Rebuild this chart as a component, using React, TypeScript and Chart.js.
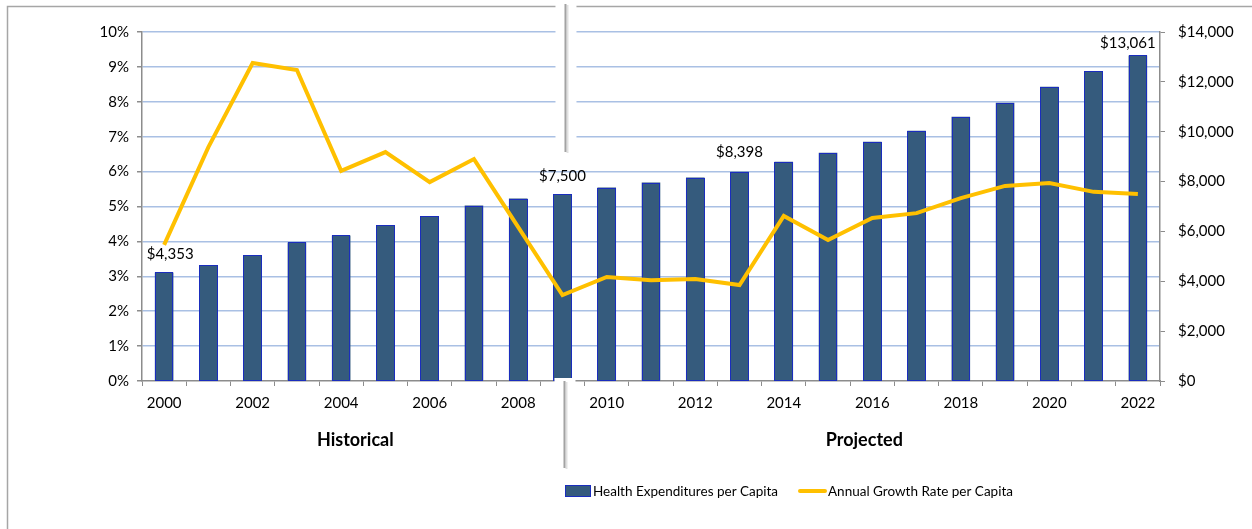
import React, { useEffect, useRef } from "react";
import { Chart, registerables } from "chart.js";

Chart.register(...registerables);

const years = [
  "2000", "2001", "2002", "2003", "2004", "2005", "2006", "2007", "2008", "2009", "2010", "2011",
  "2012", "2013", "2014", "2015", "2016", "2017", "2018", "2019", "2020", "2021", "2022",
];
const expenditures = [
  4353, 4640, 5040, 5560, 5840, 6260, 6600, 7040, 7320, 7500, 7760, 7960,
  8160, 8398, 8800, 9160, 9600, 10040, 10600, 11160, 11800, 12440, 13061,
];
const growthRate = [
  3.9, 6.7, 9.11, 8.91, 6.02, 6.56, 5.7, 6.36, 4.41, 2.46, 2.98, 2.89,
  2.92, 2.75, 4.73, 4.04, 4.67, 4.81, 5.24, 5.59, 5.67, 5.42, 5.36,
];
const labelledYears = ["2000", "2009", "2013", "2022"];
const seriesNames = ["Health Expenditures per Capita", "Annual Growth Rate per Capita"];
const periodNames = ["Historical", "Projected"];

const FONT = "Lato, 'Open Sans', sans-serif";
const BAR_COLOR = "#355b7d";
const LINE_COLOR = "#ffc000";
const AXIS_COLOR = "#8c8c8c";
const GRID_COLOR = "#a9c0e4";

// label offsets (dx, dy from bar top) for the value labels
const labelOffsets: Record<string, [number, number]> = {
  "2000": [6, -18],
  "2009": [0, -18],
  "2013": [0, -19],
  "2022": [-10, -12],
};

const fmtMoney = (v: number) => "$" + Math.round(v).toLocaleString("en-US");

const overlayPlugin = {
  id: "overlay",
  afterDatasetDraw(chart: any, args: any) {
    if (args.index !== 0) return;
    const ctx = chart.ctx;
    const meta = chart.getDatasetMeta(0);
    ctx.save();
    ctx.strokeStyle = "#0000ff";
    ctx.lineWidth = 1;
    ctx.setLineDash([1, 1]);
    meta.data.forEach((bar: any) => {
      const l = Math.round(bar.x - bar.width / 2);
      const r = Math.round(bar.x + bar.width / 2);
      const t = Math.round(bar.y);
      const b = Math.round(bar.base);
      ctx.fillStyle = BAR_COLOR;
      ctx.fillRect(l, t, r - l, b - t);
      ctx.strokeRect(l + 0.5, t + 0.5, r - l - 1, b - t - 1);
    });
    ctx.restore();
  },
  afterDraw(chart: any) {
    const ctx = chart.ctx;
    const xs = chart.scales.x;
    const y1 = chart.scales.y1;
    const area = chart.chartArea;
    ctx.save();

    // outer border
    ctx.strokeStyle = "#a6a6a6";
    ctx.lineWidth = 1.5;
    ctx.beginPath();
    ctx.moveTo(1252, 6.5);
    ctx.lineTo(7.5, 6.5);
    ctx.lineTo(7.5, 529);
    ctx.stroke();

    // value labels
    ctx.fillStyle = "#000";
    ctx.font = `15px ${FONT}`;
    ctx.textAlign = "center";
    ctx.textBaseline = "middle";
    labelledYears.forEach((yr) => {
      const i = years.indexOf(yr);
      const [dx, dy] = labelOffsets[yr];
      const x = xs.getPixelForValue(i) + dx;
      const y = y1.getPixelForValue(expenditures[i]) + dy;
      ctx.fillText(fmtMoney(expenditures[i]), x, y);
    });

    // period labels
    ctx.font = `bold 18px ${FONT}`;
    const split = (xs.getPixelForValue(9) + xs.getPixelForValue(10)) / 2;
    ctx.fillText(periodNames[0], (area.left + split) / 2 - 8, 440);
    ctx.fillText(periodNames[1], (split + area.right) / 2 - 8, 440);

    // divider with white gaps
    const dx = xs.getPixelForValue(9) + 3;
    ctx.fillStyle = "#ffffff";
    ctx.fillRect(dx - 10, 0, 21, 155);
    ctx.fillRect(dx - 11, area.bottom - 3, 21, 95);
    const drawDiv = (x: number, y0: number, y1v: number) => {
      ctx.strokeStyle = "#e0e0e0";
      ctx.lineWidth = 2;
      ctx.beginPath();
      ctx.moveTo(x + 2, y0 + 1);
      ctx.lineTo(x + 2, y1v + 1);
      ctx.stroke();
      ctx.strokeStyle = "#a3a3a3";
      ctx.lineWidth = 2;
      ctx.beginPath();
      ctx.moveTo(x, y0);
      ctx.lineTo(x, y1v);
      ctx.stroke();
    };
    drawDiv(dx, 4, 152);
    drawDiv(dx - 1, area.bottom, 468);

    // legend
    ctx.font = `13.5px ${FONT}`;
    ctx.textAlign = "left";
    ctx.textBaseline = "middle";
    ctx.fillStyle = BAR_COLOR;
    ctx.fillRect(565, 485, 26, 12);
    ctx.strokeStyle = "#0000ff";
    ctx.lineWidth = 1;
    ctx.setLineDash([1, 1]);
    ctx.strokeRect(565.5, 485.5, 25, 11);
    ctx.setLineDash([]);
    ctx.fillStyle = "#000";
    ctx.fillText(seriesNames[0], 593, 492);
    ctx.strokeStyle = LINE_COLOR;
    ctx.lineWidth = 4;
    ctx.lineCap = "round";
    ctx.beginPath();
    ctx.moveTo(800, 491);
    ctx.lineTo(825, 491);
    ctx.stroke();
    ctx.fillText(seriesNames[1], 828, 492);

    ctx.restore();
  },
};

export default function App() {
  const ref = useRef<HTMLCanvasElement | null>(null);
  useEffect(() => {
    if (!ref.current) return;
    const chart = new Chart(ref.current, {
      type: "bar",
      data: {
        labels: years,
        datasets: [
          {
            type: "bar",
            label: seriesNames[0],
            data: expenditures,
            backgroundColor: BAR_COLOR,
            borderWidth: 0,
            yAxisID: "y1",
            barPercentage: 0.42,
            categoryPercentage: 1,
            order: 1,
          },
          {
            type: "line",
            label: seriesNames[1],
            data: growthRate,
            borderColor: LINE_COLOR,
            borderWidth: 4,
            pointRadius: 0,
            tension: 0,
            yAxisID: "y",
            order: 0,
          } as any,
        ],
      },
      options: {
        responsive: false,
        animation: false,
        devicePixelRatio: 1,
        layout: { padding: { top: 32, left: 0, right: 0, bottom: 0 } },
        plugins: { legend: { display: false }, tooltip: { enabled: false } },
        scales: {
          x: {
            offset: true,
            grid: {
              display: true,
              drawOnChartArea: false,
              drawTicks: true,
              tickLength: 5,
              offset: true,
              color: AXIS_COLOR,
              tickColor: AXIS_COLOR,
            },
            border: { color: AXIS_COLOR, width: 1.5 },
            ticks: {
              autoSkip: false,
              maxRotation: 0,
              padding: 8,
              color: "#000",
              font: { family: FONT, size: 15 },
              callback: (_v: any, i: number) => (i % 2 === 0 ? years[i] : ""),
            },
            afterFit: (s: any) => {
              s.height = 148;
            },
          },
          y: {
            position: "left",
            min: 0,
            max: 10,
            ticks: {
              stepSize: 1,
              padding: 8,
              color: "#000",
              font: { family: FONT, size: 15 },
              callback: (v: any) => v + "%",
            },
            grid: {
              color: (c: any) => (c.tick && c.tick.value === 0 ? "rgba(0,0,0,0)" : GRID_COLOR),
              lineWidth: 1.5,
              tickColor: AXIS_COLOR,
              tickLength: 5,
            },
            border: { color: AXIS_COLOR, width: 1.5 },
            afterFit: (s: any) => {
              s.width = 142;
            },
          },
          y1: {
            position: "right",
            min: 0,
            max: 14000,
            ticks: {
              stepSize: 2000,
              padding: 13,
              color: "#000",
              font: { family: FONT, size: 15 },
              callback: (v: any) => fmtMoney(Number(v)),
            },
            grid: {
              drawOnChartArea: false,
              tickColor: AXIS_COLOR,
              tickLength: 5,
            },
            border: { color: AXIS_COLOR, width: 1.5 },
            afterFit: (s: any) => {
              s.width = 92;
            },
          },
        },
      },
      plugins: [overlayPlugin],
    });
    return () => chart.destroy();
  }, []);
  return (
    <div style={{ position: "fixed", left: 0, top: 0, width: 1252, height: 529, background: "#fff" }}>
      <canvas ref={ref} width={1252} height={529} style={{ display: "block", width: 1252, height: 529 }} />
    </div>
  );
}
